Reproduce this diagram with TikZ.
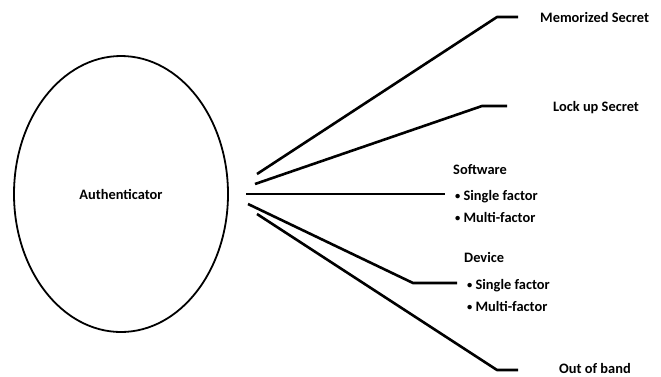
\documentclass[tikz,border=0pt]{standalone}
\usepackage{fontspec}
\setmainfont{Carlito}
\usetikzlibrary{shapes.geometric}
\newcommand{\smbul}{\raisebox{0.8pt}{\fontsize{10.5}{10}\selectfont\textbullet}\hspace{3.2pt}}
\begin{document}
\begin{tikzpicture}[x=1pt,y=-1pt,
  lbl/.style={anchor=base west,inner sep=0pt,font=\fontsize{14.4}{16}\selectfont\bfseries},
  conn/.style={line width=2.6pt,line join=round},
  oval/.style={draw,ellipse,line width=1.8pt,minimum width=214pt,minimum height=276pt,inner sep=0pt}]
\useasboundingbox (0,0) rectangle (661,376);
\node[oval] (auth) at (121,194) {};
\node[anchor=base,inner sep=0pt,font=\fontsize{14.4}{16}\selectfont\bfseries] (authl) at (121,199) {Authenticator};
% labels
\node[lbl] (mem) at (540,22) {Memorized Secret};
\node[lbl] (lock) at (553,111) {Lock up Secret};
\node[lbl] (sw) at (453,174) {Software};
\node[lbl] (sw1) at (455,200.5) {\smbul Single factor};
\node[lbl] (sw2) at (455,222.5) {\smbul Multi-factor};
\node[lbl] (dev) at (464,262) {Device};
\node[lbl] (dev1) at (467,289) {\smbul Single factor};
\node[lbl] (dev2) at (467,311) {\smbul Multi-factor};
\node[lbl] (oob) at (559,373) {Out of band};
% connector points
\coordinate (s1) at (257,174); \coordinate (k1) at (497,17);  \coordinate (e1) at (518,17);
\coordinate (s2) at (255,184); \coordinate (k2) at (482,106); \coordinate (e2) at (507,106);
\coordinate (s3) at (246,194); \coordinate (e3) at (445,194);
\coordinate (s4) at (248,204); \coordinate (k4) at (413,283); \coordinate (e4) at (457,283);
\coordinate (s5) at (257,214); \coordinate (k5) at (497,370); \coordinate (e5) at (518,370);
\draw[conn] (s1) -- (k1) -- (e1);
\draw[conn] (s2) -- (k2) -- (e2);
\draw[conn] (s3) -- (e3);
\draw[conn] (s4) -- (k4) -- (e4);
\draw[conn] (s5) -- (k5) -- (e5);
\end{tikzpicture}
\end{document}
